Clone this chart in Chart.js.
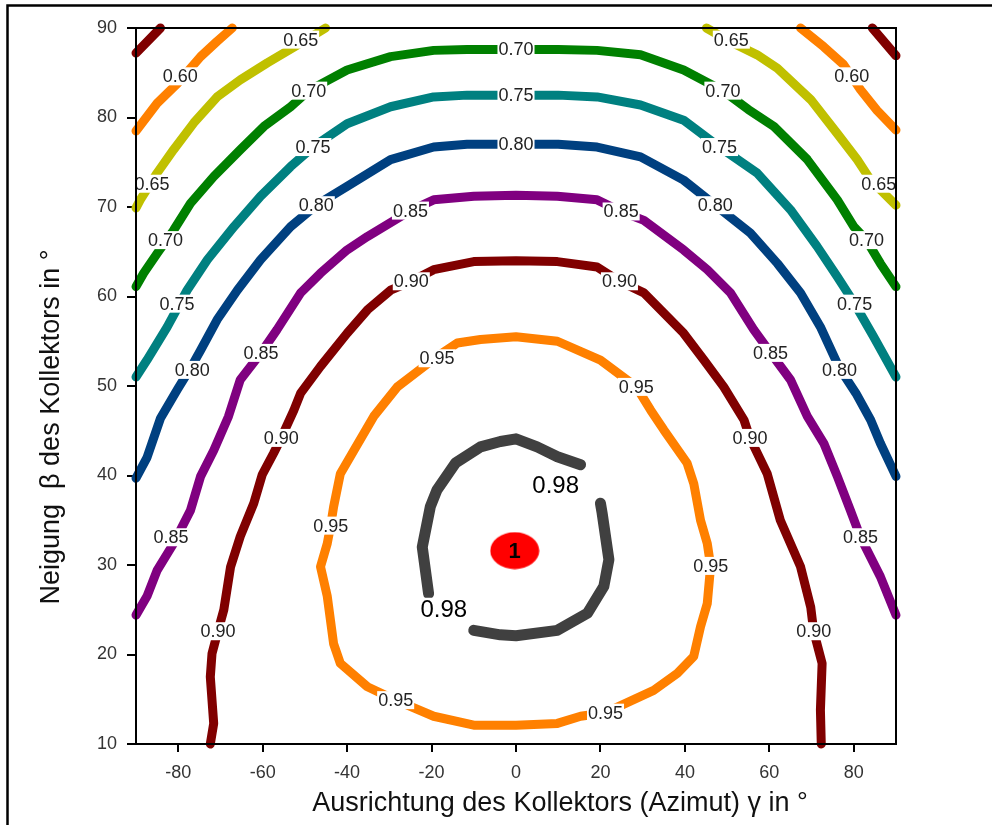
<!DOCTYPE html>
<html>
<head>
<meta charset="utf-8">
<script src="https://cdn.jsdelivr.net/npm/chart.js@4.4.0/dist/chart.umd.min.js"></script>
<style>
  html, body { margin: 0; padding: 0; background: #fff; }
  #wrap { width: 992px; height: 825px; }
</style>
</head>
<body>
<div id="wrap"><canvas id="chart" width="992" height="825"></canvas></div>
<script>
// Axis ticks
const xTicks = [-80, -60, -40, -20, 0, 20, 40, 60, 80];
const yTicks = [10, 20, 30, 40, 50, 60, 70, 80, 90];

// Contour lines, [azimut, neigung] pairs
const c055L = [[-90, 87.2], [-84.2, 90]];
const c055R = [[84.4, 90], [90, 86.9]];
const c060L = [[-90, 78.5], [-85.0, 81.6], [-80.2, 83.8], [-74.7, 86.8], [-70.8, 88.5], [-67.2, 90]];
const c060R = [[67.4, 90], [72.9, 87.9], [77.6, 85.9], [81.6, 83.1], [85.5, 80.8], [90, 78.6]];
const c065L = [[-90, 69.9], [-89.0, 70.8], [-85.0, 73.8], [-81.1, 76.4], [-76.3, 79.4], [-70.8, 82.3],
  [-65.3, 84.2], [-58.9, 86.1], [-51.0, 88.3], [-45.1, 90]];
const c065R = [[45.1, 90], [51.0, 88.4], [57.1, 87.0], [61.9, 85.5], [69.8, 82.0], [76.1, 78.2],
  [80.8, 75.3], [84.0, 73.0], [90, 70.2]];
const c070 = [[-90, 61.1], [-88.2, 62.6], [-85.0, 64.8], [-81.1, 67.4], [-77.1, 70.4], [-71.6, 73.4],
  [-65.3, 76.4], [-59.7, 79.0], [-53.4, 81.2], [-49.1, 83.0], [-40.0, 85.3], [-29.7, 86.8],
  [-19.5, 87.5], [-11.6, 87.6], [0, 87.6], [10, 87.6], [19.2, 87.5], [29.5, 87.0], [39.7, 85.3],
  [49.0, 83.0], [55.0, 80.9], [61.1, 79.0], [69.0, 75.3], [76.1, 70.8], [80.0, 67.8], [83.0, 66.3],
  [86.3, 63.7], [90, 61.1]];
const c075 = [[-90, 51.0], [-87.4, 52.9], [-82.6, 56.6], [-77.9, 60.7], [-73.1, 64.1], [-66.8, 67.8],
  [-60.5, 71.2], [-53.4, 74.5], [-48.1, 76.7], [-40.0, 79.3], [-29.7, 81.2], [-19.5, 82.3],
  [-11.6, 82.5], [0, 82.5], [10, 82.5], [19.2, 82.3], [29.5, 81.4], [39.7, 79.7], [48.2, 76.7],
  [57.1, 73.8], [65.0, 69.7], [71.3, 65.6], [76.1, 62.2], [80.2, 59.2], [84.7, 55.5], [90, 51.0]];
const c080 = [[-90, 39.7], [-87.4, 42.0], [-84.2, 46.4], [-80.2, 49.6], [-76.7, 52.3], [-74.7, 54.0],
  [-70.8, 57.4], [-66.0, 60.7], [-60.5, 64.1], [-53.4, 67.8], [-47.3, 70.2], [-40.0, 72.3],
  [-29.7, 75.3], [-19.5, 76.7], [-11.6, 77.0], [0, 77.0], [10, 77.0], [19.2, 76.7], [29.5, 75.6],
  [39.7, 73.0], [47.2, 70.2], [55.5, 67.1], [61.9, 63.7], [67.4, 60.4], [72.1, 56.6], [76.6, 52.0],
  [80.5, 49.2], [84.0, 46.2], [86.3, 43.6], [90, 39.9]];
const c085 = [[-90, 24.4], [-87.4, 26.5], [-85.0, 29.4], [-81.1, 32.4], [-77.1, 36.1], [-74.7, 39.9],
  [-71.6, 42.8], [-68.1, 46.6], [-65.3, 50.7], [-60.4, 53.7], [-56.6, 56.3], [-51.0, 60.4],
  [-46.3, 62.6], [-40.0, 65.2], [-35.2, 66.7], [-25.0, 69.6], [-19.5, 70.8], [-10.0, 71.2], [0, 71.3],
  [9.8, 71.2], [19.2, 70.8], [24.9, 69.5], [30.3, 68.5], [39.7, 65.2], [45.3, 63.0], [50.8, 60.4],
  [56.3, 56.3], [60.3, 53.7], [65.0, 50.7], [69.0, 46.6], [72.9, 43.6], [76.1, 39.9], [79.2, 36.1],
  [81.6, 33.1], [86.3, 28.7], [90, 24.4]];
const c090 = [[-72.4, 10], [-71.6, 12.3], [-72.4, 17.5], [-72.0, 20.1], [-70.6, 22.6], [-69.2, 25.0],
  [-67.6, 29.8], [-65.3, 33.2], [-62.1, 36.9], [-60.1, 40.1], [-57.4, 42.5], [-55.6, 44.2],
  [-52.6, 47.3], [-51.0, 49.2], [-46.3, 52.2], [-40.0, 55.9], [-35.2, 58.5], [-29.7, 60.7],
  [-24.8, 61.7], [-19.5, 63.0], [-10.0, 63.9], [0, 64.0], [9.8, 63.9], [19.2, 63.3], [24.5, 61.7],
  [30.3, 60.4], [39.7, 55.9], [44.5, 52.9], [49.2, 49.9], [54.0, 46.2], [55.4, 44.2], [59.5, 40.2],
  [62.6, 35.0], [67.4, 29.8], [69.8, 25.3], [70.5, 22.6], [72.5, 19.0], [72.1, 13.8], [72.3, 10]];
const c095 = [[0, 12.1], [-10.0, 12.1], [-19.5, 13.1], [-28.5, 14.9], [-35.2, 16.4], [-41.6, 19.0],
  [-43.2, 21.2], [-44.7, 26.5], [-46.3, 29.8], [-44.7, 32.4], [-43.9, 34.4], [-43.2, 36.5],
  [-41.6, 40.2], [-38.4, 42.8], [-33.7, 46.6], [-28.1, 49.9], [-18.7, 53.3], [-13.9, 54.8],
  [-8.4, 55.2], [0, 55.5], [9.8, 55.0], [20.0, 52.9], [28.5, 49.9], [31.9, 47.3], [35.0, 45.1],
  [40.5, 41.4], [42.1, 39.1], [43.7, 35.0], [45.3, 32.4], [46.1, 29.9], [45.3, 25.7], [43.7, 23.1],
  [42.1, 19.8], [38.2, 17.9], [32.6, 16.0], [21.2, 13.5], [15.3, 13.1], [9.8, 12.3], [0, 12.1]];
const c098A = [[15.3, 41.2], [9.8, 42.1], [5.0, 43.2], [0, 44.1], [-3.7, 43.8], [-8.4, 43.2],
  [-14.3, 41.4], [-18.7, 38.4], [-20.3, 36.5], [-22.2, 32.0], [-20.7, 26.8]];
const c098B = [[20.0, 36.9], [20.4, 35.8], [22.0, 30.6], [20.8, 27.6], [16.9, 24.6], [9.8, 22.7],
  [0, 22.1], [-3.7, 22.2], [-10.0, 22.7]];

// Contour labels
const labelX = [-79.5, 79.5, -51.0, 51.0, -86.2, 85.9,
  -83.0, -49.1, 0, 49.0, 83.0,
  -80.3, -48.1, 0, 48.2, 80.2,
  -76.7, -47.3, 0, 47.2, 76.6,
  -81.7, -60.4, -25.0, 24.9, 60.3, 81.6,
  -70.6, -55.6, -24.8, 24.5, 55.4, 70.5,
  -28.5, -43.9, -18.7, 28.5, 46.1, 21.2,
  -17.1, 9.4];
const labelY = [84.6, 84.6, 88.7, 88.7, 72.6, 72.6,
  66.3, 83.0, 87.6, 83.0, 66.3,
  59.2, 76.7, 82.5, 76.7, 59.2,
  51.8, 70.2, 77.0, 70.2, 51.8,
  33.1, 53.7, 69.6, 69.5, 53.7, 33.1,
  22.6, 44.2, 61.7, 61.7, 44.2, 22.6,
  14.9, 34.4, 53.1, 49.9, 29.9, 13.5,
  25.0, 38.9];
const labelText = ['0.60', '0.60', '0.65', '0.65', '0.65', '0.65',
  '0.70', '0.70', '0.70', '0.70', '0.70',
  '0.75', '0.75', '0.75', '0.75', '0.75',
  '0.80', '0.80', '0.80', '0.80', '0.80',
  '0.85', '0.85', '0.85', '0.85', '0.85', '0.85',
  '0.90', '0.90', '0.90', '0.90', '0.90', '0.90',
  '0.95', '0.95', '0.95', '0.95', '0.95', '0.95',
  '0.98', '0.98'];

// Optimum marker
const markerX = [-0.3];
const markerY = [31.6];
const markerText = ['1'];

const FONT = '"Liberation Sans", Arial, sans-serif';

function lineSet(pts, color, width) {
  return {
    data: pts.map(p => ({ x: p[0], y: p[1] })),
    showLine: true,
    borderColor: color,
    borderWidth: width || 9,
    pointRadius: 0,
    borderCapStyle: 'round',
    borderJoinStyle: 'round',
    tension: 0,
    clip: 12
  };
}

// red ellipse used as point style
const ellipse = document.createElement('canvas');
ellipse.width = 50;
ellipse.height = 38;
(function () {
  const c = ellipse.getContext('2d');
  c.fillStyle = '#ff0000';
  c.beginPath();
  c.ellipse(25, 19, 24.5, 18.5, 0, 0, Math.PI * 2);
  c.fill();
})();

const framePlugin = {
  id: 'frame',
  beforeDraw(chart) {
    const ctx = chart.ctx;
    ctx.save();
    ctx.fillStyle = '#fff';
    ctx.fillRect(0, 0, chart.width, chart.height);
    ctx.strokeStyle = '#000';
    ctx.lineWidth = 2.5;
    ctx.beginPath();
    ctx.moveTo(7.5, chart.height);
    ctx.lineTo(7.5, 5.5);
    ctx.lineTo(chart.width, 5.5);
    ctx.stroke();
    ctx.restore();
  },
  afterDraw(chart) {
    const { ctx, chartArea: a } = chart;
    ctx.save();
    ctx.strokeStyle = '#000';
    ctx.lineWidth = 2;
    ctx.strokeRect(a.left, a.top, a.right - a.left, a.bottom - a.top);
    // axis titles
    ctx.fillStyle = '#111';
    ctx.font = '27px ' + FONT;
    ctx.textAlign = 'center';
    ctx.textBaseline = 'alphabetic';
    ctx.fillText('Ausrichtung des Kollektors (Azimut) \u03b3 in \u00b0', 560, 811);
    ctx.translate(59, 427);
    ctx.rotate(-Math.PI / 2);
    ctx.fillText('Neigung  \u03b2 des Kollektors in \u00b0', 0, 0);
    ctx.restore();
  }
};

const labelPlugin = {
  id: 'contourLabels',
  afterDatasetsDraw(chart) {
    const { ctx, scales: { x, y } } = chart;
    ctx.save();
    ctx.textAlign = 'center';
    ctx.textBaseline = 'middle';
    labelText.forEach((t, i) => {
      const big = t === '0.98';
      const size = big ? 24 : 18;
      ctx.font = size + 'px ' + FONT;
      const px = x.getPixelForValue(labelX[i]);
      const py = y.getPixelForValue(labelY[i]);
      const w = ctx.measureText(t).width;
      ctx.fillStyle = '#fff';
      ctx.fillRect(px - w / 2 - 1, py - size / 2, w + 2, size);
      ctx.fillStyle = big ? '#000' : '#222';
      ctx.fillText(t, px, py + 1);
    });
    ctx.font = 'bold 22px ' + FONT;
    ctx.fillStyle = '#000';
    markerText.forEach((t, i) => {
      ctx.fillText(t, x.getPixelForValue(markerX[i]), y.getPixelForValue(markerY[i]) + 1);
    });
    ctx.restore();
  }
};

const datasets = [
  lineSet(c055L, '#800000'), lineSet(c055R, '#800000'),
  lineSet(c060L, '#ff8000'), lineSet(c060R, '#ff8000'),
  lineSet(c065L, '#c0c000'), lineSet(c065R, '#c0c000'),
  lineSet(c070, '#008000'),
  lineSet(c075, '#008080'),
  lineSet(c080, '#004080'),
  lineSet(c085, '#800080'),
  lineSet(c090, '#800000'),
  lineSet(c095, '#ff8000'),
  lineSet(c098A, '#404040', 11), lineSet(c098B, '#404040', 11),
  {
    data: markerX.map((v, i) => ({ x: v, y: markerY[i] })),
    pointStyle: ellipse,
    pointRadius: 20,
    showLine: false
  }
];

const tickFont = { family: FONT, size: 18 };

new Chart(document.getElementById('chart'), {
  type: 'scatter',
  data: { datasets },
  options: {
    responsive: false,
    animation: false,
    devicePixelRatio: 1,
    events: [],
    layout: { padding: { top: 28, right: 96, left: 0, bottom: 0 } },
    plugins: { legend: { display: false }, tooltip: { enabled: false } },
    scales: {
      x: {
        type: 'linear', min: -90, max: 90,
        afterBuildTicks: s => { s.ticks = xTicks.map(v => ({ value: v })); },
        afterFit: s => { s.height = 81; },
        grid: { drawOnChartArea: false, drawTicks: true, tickLength: 8, color: '#000', lineWidth: 2 },
        border: { display: true, color: '#000', width: 2 },
        ticks: { font: tickFont, color: '#333', padding: 10, maxRotation: 0 }
      },
      y: {
        type: 'linear', min: 10, max: 90,
        afterBuildTicks: s => { s.ticks = yTicks.map(v => ({ value: v })); },
        afterFit: s => { s.width = 136; },
        grid: { drawOnChartArea: false, drawTicks: true, tickLength: 9, color: '#000', lineWidth: 2 },
        border: { display: true, color: '#000', width: 2 },
        ticks: { font: tickFont, color: '#333', padding: 10 }
      }
    }
  },
  plugins: [framePlugin, labelPlugin]
});
</script>
</body>
</html>
